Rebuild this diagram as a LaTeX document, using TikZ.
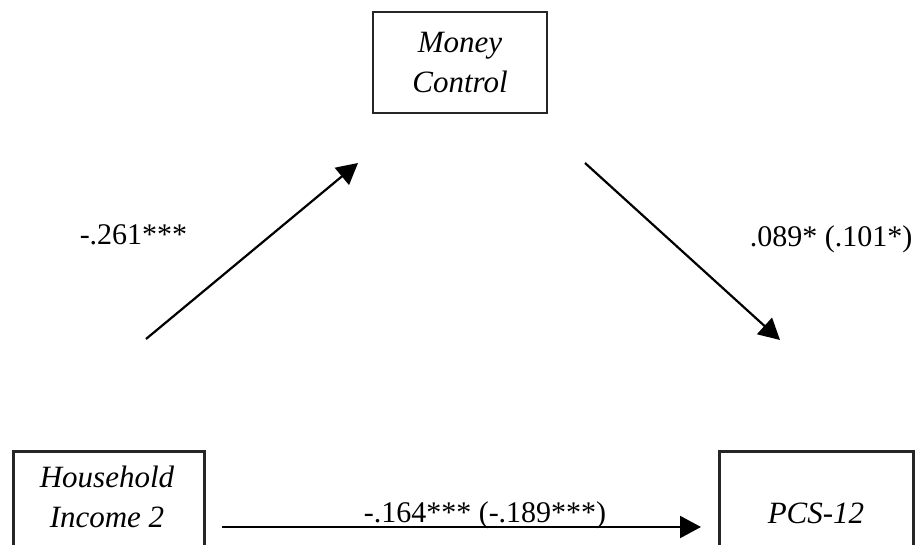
\documentclass[tikz,border=0pt]{standalone}
\usepackage{fontspec}
\setmainfont{Liberation Serif}
\usetikzlibrary{arrows.meta}
\begin{document}
\begin{tikzpicture}[x=1pt,y=-1pt,
  box/.style={draw=black!85, line width=2.6pt, inner sep=0pt},
  boxtext/.style={font=\fontsize{31}{40}\selectfont\itshape, align=center, inner sep=0pt},
  coef/.style={font=\fontsize{30}{36}\selectfont, inner sep=0pt, anchor=base},
  effect/.style={line width=2.2pt, -{Triangle[length=21pt,width=22pt]}}]
\clip (0,0) rectangle (919,545);
\fill[white] (0,0) rectangle (919,545);

% variable boxes
\node[box, minimum width=174pt, minimum height=101pt] (mcbox) at (460,62.5) {};
\node[box, minimum width=191pt, minimum height=130pt, anchor=north west] (hibox) at (12,450) {};
\node[box, minimum width=194pt, minimum height=130pt, anchor=north west] (pcsbox) at (718,450) {};

% box labels
\node[boxtext] (mc) at (460,63) {Money\\Control};
\node[boxtext] (hi) at (107,497) {Household\\Income 2};
\node[boxtext] (pcs) at (816,513) {PCS-12};

% arrow end points
\coordinate (a1) at (146,339);
\coordinate (a2) at (358,163);
\coordinate (b1) at (585,163);
\coordinate (b2) at (780,340);
\coordinate (c1) at (222,527);
\coordinate (c2) at (701,527);

\draw[effect] (a1) -- (a2);
\draw[effect] (b1) -- (b2);
\draw[effect] (c1) -- (c2);

% path coefficients
\node[coef] (ca) at (133.5,245) {-.261***};
\node[coef] (cb) at (831,247) {.089* (.101*)};
\node[coef] (cc) at (485,522) {-.164*** (-.189***)};
\end{tikzpicture}
\end{document}
